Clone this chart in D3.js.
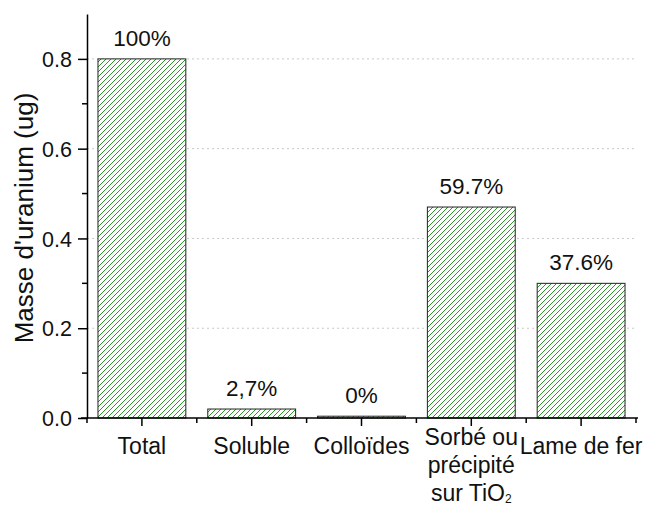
<!DOCTYPE html>
<html><head><meta charset="utf-8">
<script src="https://cdn.jsdelivr.net/npm/d3@7/dist/d3.min.js"></script>
<style>body{margin:0;background:#fff}svg{font-family:Arial,"Liberation Sans",sans-serif}</style>
</head><body>
<svg id="c" width="656" height="506"></svg>
<script>
const categories = ["Total","Soluble","Colloïdes","Sorbé ou|précipité|sur TiO₂","Lame de fer"];
const values = [0.8, 0.02, 0.004, 0.47, 0.30];
const labels = ["100%","2,7%","0%","59.7%","37.6%"];
const majorTicks = [0.0,0.2,0.4,0.6,0.8];
const minorTicks = [0.1,0.3,0.5,0.7];

const svg = d3.select("#c");
const L = 87, R = 636, T = 14, B = 418;
const x = d3.scaleBand().domain(categories).range([L,R]).paddingInner(0.2).paddingOuter(0.1);
const xc = d3.scaleBand().domain(categories).range([L,R]);
const y = d3.scaleLinear().domain([0,0.9]).range([B,T]);

const defs = svg.append("defs");
const pat = defs.append("pattern").attr("id","hatch").attr("patternUnits","userSpaceOnUse")
  .attr("width",5).attr("height",5);
pat.append("rect").attr("width",5).attr("height",5).attr("fill","#fff");
pat.append("path").attr("d","M-1,1 l2,-2 M0,5 l5,-5 M4,6 l2,-2").attr("stroke","#2a962a").attr("stroke-width",1);

// grid
svg.append("g").selectAll("line").data(majorTicks.filter(d=>d>0)).join("line")
  .attr("x1",L).attr("x2",R).attr("y1",d=>y(d)).attr("y2",d=>y(d))
  .attr("stroke","#c8c8c8").attr("stroke-width",1).attr("stroke-dasharray","2,3");

// bars
svg.append("g").selectAll("rect").data(categories).join("rect")
  .attr("x",d=>x(d)).attr("width",x.bandwidth())
  .attr("y",(d,i)=>y(values[i])).attr("height",(d,i)=>B-y(values[i]))
  .attr("fill","url(#hatch)").attr("stroke","#222").attr("stroke-width",1);

// value labels
svg.append("g").selectAll("text").data(categories).join("text")
  .attr("x",d=>x(d)+x.bandwidth()/2).attr("y",(d,i)=>y(values[i])-13)
  .attr("text-anchor","middle").attr("font-size","22.5px").attr("fill","#111")
  .text((d,i)=>labels[i]);

// y axis
const ya = svg.append("g").attr("transform",`translate(${L},0)`)
  .call(d3.axisLeft(y).tickValues(majorTicks).tickFormat(d3.format(".1f")).tickSize(9).tickSizeOuter(0));
ya.select(".domain").attr("stroke","#000").attr("stroke-width",1.5);
ya.selectAll(".tick line").attr("stroke","#000").attr("stroke-width",1.5);
ya.selectAll(".tick text").attr("font-size","21.5px").attr("fill","#111").attr("x",-15).attr("dy","0.36em")
  .attr("font-family","Arial, 'Liberation Sans', sans-serif");
ya.append("g").selectAll("line").data(minorTicks).join("line")
  .attr("x1",-5).attr("x2",0).attr("y1",d=>y(d)).attr("y2",d=>y(d)).attr("stroke","#000").attr("stroke-width",1.5);

// x axis
const xa = svg.append("g").attr("transform",`translate(0,${B})`);
xa.append("line").attr("x1",L-6).attr("x2",R+2).attr("stroke","#000").attr("stroke-width",1.5);
xa.selectAll("line.maj").data(categories).join("line").attr("class","maj")
  .attr("x1",d=>xc(d)+xc.bandwidth()/2).attr("x2",d=>xc(d)+xc.bandwidth()/2)
  .attr("y1",0).attr("y2",8).attr("stroke","#000").attr("stroke-width",1.5);
xa.selectAll("line.min").data(d3.range(categories.length+1)).join("line").attr("class","min")
  .attr("x1",i=>L+i*xc.bandwidth()).attr("x2",i=>L+i*xc.bandwidth())
  .attr("y1",0).attr("y2",5).attr("stroke","#000").attr("stroke-width",1.5);

const CFS = "23px";
const catG = svg.append("g");
categories.forEach((c,i)=>{
  const lines = c.split("|");
  const cx = xc(c)+xc.bandwidth()/2;
  if(lines.length===1){
    catG.append("text").attr("text-anchor","middle").attr("font-size",CFS).attr("fill","#111")
      .attr("x",cx).attr("y",454).text(c);
  } else {
    lines.forEach((ln,j)=>{
      const ts = catG.append("text").attr("text-anchor","middle").attr("font-size",CFS).attr("fill","#111")
        .attr("x",cx).attr("y",445+j*28);
      if(ln.indexOf("₂")>=0){
        ts.append("tspan").text(ln.replace("₂",""));
        ts.append("tspan").attr("font-size","12px").attr("dy",2).text("2");
      } else {
        ts.text(ln);
      }
    });
  }
});

// y title
svg.append("text").attr("transform",`translate(33,218) rotate(-90)`)
  .attr("text-anchor","middle").attr("font-size","26px").attr("fill","#111").text("Masse d'uranium (ug)");
</script>
</body></html>
